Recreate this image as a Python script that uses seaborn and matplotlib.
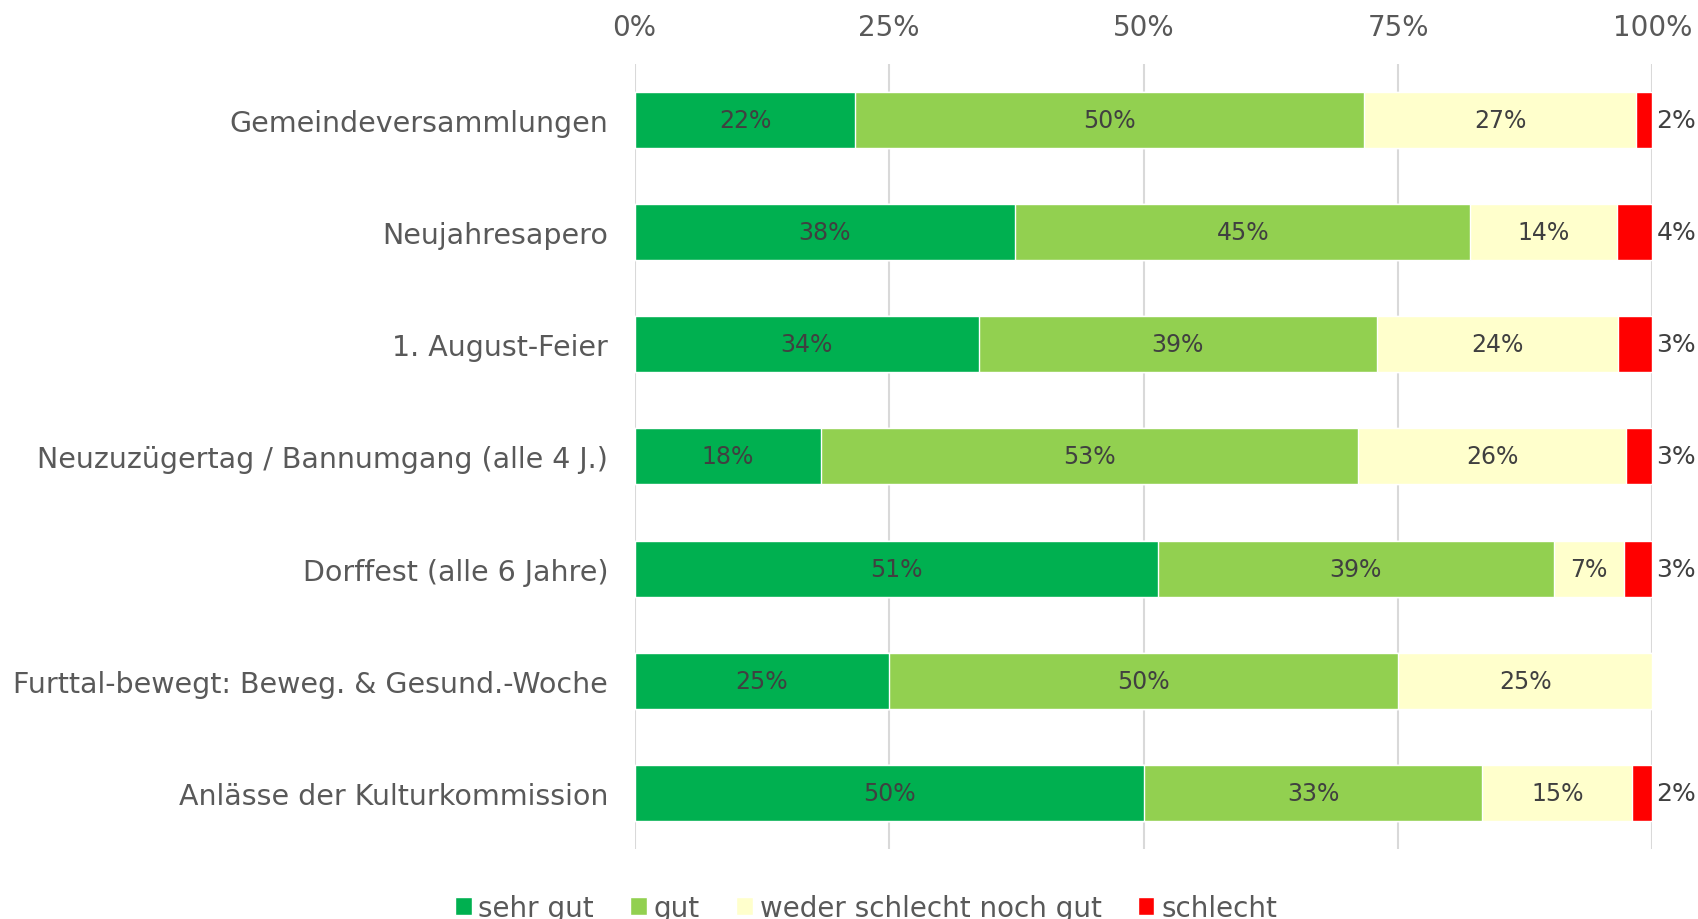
import numpy as np
import pandas as pd
import matplotlib
matplotlib.use("Agg")
import matplotlib.pyplot as plt
import seaborn as sns
from matplotlib.patches import Patch

kategorien = ["Gemeindeversammlungen", "Neujahresapero", "1. August-Feier",
              "Neuzuzügertag / Bannumgang (alle 4 J.)", "Dorffest (alle 6 Jahre)",
              "Furttal-bewegt: Beweg. & Gesund.-Woche", "Anlässe der Kulturkommission"]
sehr_gut = [21.7, 37.4, 33.8, 18.3, 51.4, 25.0, 50.0]
gut = [50.0, 44.7, 39.1, 52.8, 38.9, 50.0, 33.3]
weder = [26.7, 14.4, 23.7, 26.3, 6.9, 25.0, 14.7]
schlecht = [1.6, 3.5, 3.4, 2.6, 2.8, 0.0, 2.0]
label_sehr_gut = ["22%", "38%", "34%", "18%", "51%", "25%", "50%"]
label_gut = ["50%", "45%", "39%", "53%", "39%", "50%", "33%"]
label_weder = ["27%", "14%", "24%", "26%", "7%", "25%", "15%"]
label_schlecht = ["2%", "4%", "3%", "3%", "3%", "", "2%"]

serien = ["sehr gut", "gut", "weder schlecht noch gut", "schlecht"]
farben = ["#00B050", "#92D050", "#FFFFCC", "#FF0000"]

df = pd.DataFrame({"Kategorie": kategorien, "sehr gut": sehr_gut, "gut": gut,
                   "weder schlecht noch gut": weder, "schlecht": schlecht})
kum = df[serien].cumsum(axis=1)
kum["Kategorie"] = df["Kategorie"]

sns.set_style("white")
plt.rcParams["font.family"] = ["DejaVu Sans"]

fig = plt.figure(figsize=(16.98, 9.2), dpi=100)
ax = fig.add_axes([0.3737, 0.0765, 0.5995, 0.8525])

# gestapelt: zuerst die groesste Summe zeichnen, dann darueber
for s, c in reversed(list(zip(serien, farben))):
    sns.barplot(data=kum, x=s, y="Kategorie", color=c, orient="h",
                width=0.5, ax=ax, saturation=1, zorder=3)

textfarbe = "#404040"
labels = [label_sehr_gut, label_gut, label_weder]
for i in range(len(kategorien)):
    for j, s in enumerate(serien[:3]):
        mitte = kum[s][i] - df[s][i] / 2
        ax.text(mitte, i, labels[j][i], ha="center", va="center",
                fontsize=17, color=textfarbe, zorder=4)
    if label_schlecht[i]:
        ax.text(kum["schlecht"][i] + 0.4, i, label_schlecht[i], ha="left",
                va="center", fontsize=18, color=textfarbe, zorder=4)

ax.set_xlim(0, 100)
ax.set_ylim(6.5, -0.5)
ax.set_xticks([0, 25, 50, 75, 100])
ax.set_xticklabels(["0%", "25%", "50%", "75%", "100%"])
ax.xaxis.tick_top()
ax.tick_params(axis="x", length=0, labelsize=20, labelcolor="#595959", pad=17)
ax.tick_params(axis="y", length=0, labelsize=20.5, labelcolor="#595959", pad=19)
ax.set_xlabel("")
ax.set_ylabel("")
ax.grid(axis="x", color="#D9D9D9", linewidth=1.5, zorder=0)
ax.set_axisbelow(True)
for sp in ax.spines.values():
    sp.set_visible(False)

handles = [Patch(facecolor=c, label=s) for s, c in zip(serien, farben)]
fig.legend(handles=handles, loc="lower center", bbox_to_anchor=(0.51, -0.03),
           ncol=4, frameon=False, fontsize=20, labelcolor="#595959",
           handlelength=0.6, handleheight=0.6, handletextpad=0.25, columnspacing=1.3)

fig.savefig("out.png", dpi=100)
